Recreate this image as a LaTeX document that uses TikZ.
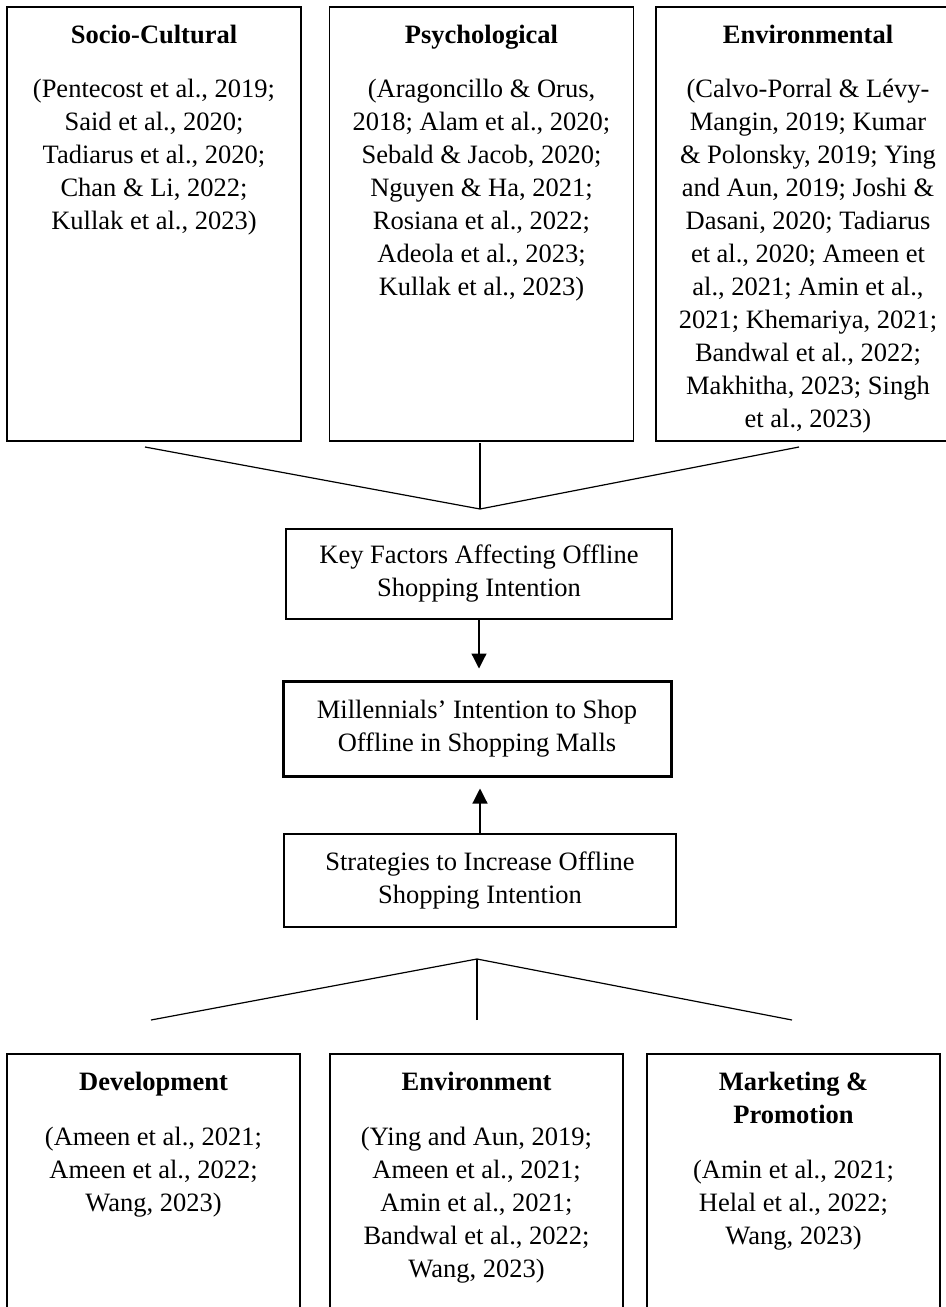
\documentclass[tikz,border=0pt]{standalone}
\usepackage{fontspec}
\setmainfont{Liberation Serif}
\usetikzlibrary{positioning, arrows.meta}

\begin{document}
\begin{tikzpicture}[x=0.5pt, y=-0.5pt,
    every node/.style={font=\fontsize{13.25pt}{16.5pt}\selectfont},
    framebox/.style={draw, line width=0.6pt, inner sep=0pt},
    reftext/.style={align=center, inner sep=0pt, anchor=north},
    midbox/.style={draw, line width=0.6pt, align=center, inner sep=0pt},
    link/.style={line width=0.6pt},
    arr/.style={line width=0.6pt, -{Triangle[length=7.5pt,width=7.5pt]}, shorten >=5.5pt}]
        \useasboundingbox (0,0) rectangle (946,1307);

        % Factor boxes on top
        \foreach \nm/\cx/\bw in {socio/154/147pt, psych/481.5/152pt, envir/808/152pt} {
          \node[framebox, minimum width=\bw, minimum height=217pt] (\nm) at (\cx,224) {};
        }

        \node[reftext] (sociotxt) at (154,25) {\textbf{Socio-Cultural}\\[10.5pt]
          (Pentecost et al., 2019;\\ Said et al., 2020;\\ Tadiarus et al., 2020;\\
          Chan \& Li, 2022;\\ Kullak et al., 2023)};
        \node[reftext] (psychtxt) at (481.5,25) {\textbf{Psychological}\\[10.5pt]
          (Aragoncillo \& Orus,\\ 2018; Alam et al., 2020;\\ Sebald \& Jacob, 2020;\\
          Nguyen \& Ha, 2021;\\ Rosiana et al., 2022;\\ Adeola et al., 2023;\\
          Kullak et al., 2023)};
        \node[reftext] (envirtxt) at (808,25) {\textbf{Environmental}\\[10.5pt]
          (Calvo-Porral \& Lévy-\\ Mangin, 2019; Kumar\\ \& Polonsky, 2019; Ying\\
          and Aun, 2019; Joshi \&\\ Dasani, 2020; Tadiarus\\ et al., 2020; Ameen et\\
          al., 2021; Amin et al.,\\ 2021; Khemariya, 2021;\\ Bandwal et al., 2022;\\
          Makhitha, 2023; Singh\\ et al., 2023)};

        % Lines joining the factors
        \coordinate (sociol) at (145,447);
        \coordinate (psychl) at (480,443);
        \coordinate (envirl) at (799,447);
        \coordinate (topjoin) at (480,509);
        \draw[link] (sociol) -- (topjoin) -- (envirl);
        \draw[link] (psychl) -- (topjoin);

        % Middle column
        \node[midbox, minimum width=193pt, minimum height=45pt] (keyf) at (479,574)
          {Key Factors Affecting Offline\\ Shopping Intention};
        \node[midbox, line width=1.5pt, minimum width=194pt, minimum height=47.5pt] (millen) at (477,728.5)
          {Millennials' Intention to Shop\\ Offline in Shopping Malls};
        \node[midbox, minimum width=196pt, minimum height=46.5pt] (strat) at (480,880.5)
          {Strategies to Increase Offline\\ Shopping Intention};

        \draw[arr] (keyf.south) -- (keyf.south |- millen.north);
        \draw[arr] (strat.north) -- (strat.north |- millen.south);

        % Lines to the strategies
        \coordinate (botjoin) at (477,959);
        \coordinate (develt) at (151,1020);
        \coordinate (envmtt) at (477,1020);
        \coordinate (markett) at (792,1020);
        \draw[link] (develt) -- (botjoin) -- (markett);
        \draw[link] (envmtt) -- (botjoin);

        % Strategy boxes at the bottom
        \foreach \nm/\cx in {devel/153.5, envmt/476.5, market/793.5} {
          \node[framebox, minimum width=146.5pt, minimum height=129pt] (\nm) at (\cx,1183) {};
        }

        \node[reftext] (develtxt) at (153.5,1072) {\textbf{Development}\\[11pt]
          (Ameen et al., 2021;\\ Ameen et al., 2022;\\ Wang, 2023)};
        \node[reftext] (envmttxt) at (476.5,1072) {\textbf{Environment}\\[11pt]
          (Ying and Aun, 2019;\\ Ameen et al., 2021;\\ Amin et al., 2021;\\
          Bandwal et al., 2022;\\ Wang, 2023)};
        \node[reftext] (markettxt) at (793.5,1072) {\textbf{Marketing \&}\\ \textbf{Promotion}\\[11pt]
          (Amin et al., 2021;\\ Helal et al., 2022;\\ Wang, 2023)};
      \end{tikzpicture}
\end{document}
